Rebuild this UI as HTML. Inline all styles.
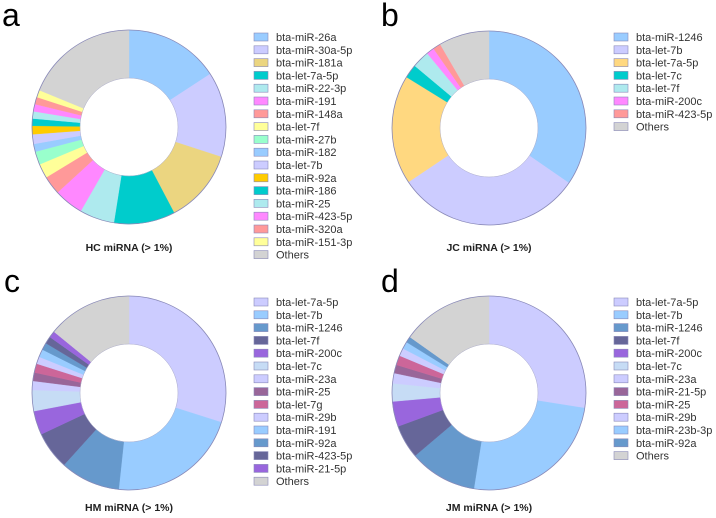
<!DOCTYPE html>
<html><head><meta charset="utf-8">
<style>
html,body{margin:0;padding:0;background:#fff;}
svg{display:block;font-family:"Liberation Sans",Arial,sans-serif;}
</style></head>
<body>
<svg id="fig" width="716" height="518" viewBox="0 0 716 518"></svg>
<script>
const labelsA=["bta-miR-26a","bta-miR-30a-5p","bta-miR-181a","bta-let-7a-5p","bta-miR-22-3p","bta-miR-191","bta-miR-148a","bta-let-7f","bta-miR-27b","bta-miR-182","bta-let-7b","bta-miR-92a","bta-miR-186","bta-miR-25","bta-miR-423-5p","bta-miR-320a","bta-miR-151-3p","Others"];
const valuesA=[15.8,14.2,12.3,10.2,5.8,4.9,3.1,2.4,2.2,1.3,1.6,1.4,1.2,1.2,1.2,1.2,1.2,18.8];
const colorsA=["#99ccff","#ccccff","#ebd580","#00cccc","#aeeaee","#ff88ff","#ff9999","#ffff99","#99ffcc","#99ccff","#ccccff","#ffcc00","#00cccc","#aeeaee","#ff88ff","#ff9999","#ffff99","#d3d3d3"];

const labelsB=["bta-miR-1246","bta-let-7b","bta-let-7a-5p","bta-let-7c","bta-let-7f","bta-miR-200c","bta-miR-423-5p","Others"];
const valuesB=[34.6,31.0,18.2,2.3,2.9,1.3,1.3,8.4];
const colorsB=["#99ccff","#ccccff","#ffd880","#00cccc","#aeeaee","#ff88ff","#ff9999","#d3d3d3"];

const labelsC=["bta-let-7a-5p","bta-let-7b","bta-miR-1246","bta-let-7f","bta-miR-200c","bta-let-7c","bta-miR-23a","bta-miR-25","bta-let-7g","bta-miR-29b","bta-miR-191","bta-miR-92a","bta-miR-423-5p","bta-miR-21-5p","Others"];
const valuesC=[29.9,21.8,10.0,6.3,4.0,3.5,1.5,1.4,1.5,1.2,1.3,1.2,1.2,1.1,14.1];
const colorsC=["#ccccff","#99ccff","#6699cc","#666699","#9966dd","#c6dcf5","#ccccff","#996699","#cc6699","#ccccff","#99ccff","#6699cc","#666699","#9966dd","#d3d3d3"];

const labelsD=["bta-let-7a-5p","bta-let-7b","bta-miR-1246","bta-let-7f","bta-miR-200c","bta-let-7c","bta-miR-23a","bta-miR-21-5p","bta-miR-25","bta-miR-29b","bta-miR-23b-3p","bta-miR-92a","Others"];
const valuesD=[27.5,25.0,11.3,5.6,4.2,3.0,1.7,1.4,1.6,1.3,1.2,1.0,15.2];
const colorsD=["#ccccff","#99ccff","#6699cc","#666699","#9966dd","#c6dcf5","#ccccff","#996699","#cc6699","#ccccff","#99ccff","#6699cc","#d3d3d3"];

const NS="http://www.w3.org/2000/svg";
const svg=document.getElementById("fig");
function mk(tag,attrs,parent){const e=document.createElementNS(NS,tag);for(const k in attrs)e.setAttribute(k,attrs[k]);(parent||svg).appendChild(e);return e;}

function donut(id,letter,title,labels,values,colors,cx,cy,lx,ly,letX,letY,titleY){
  const g=mk("g",{});
  
  
  const R=97,r=49;
  const total=values.reduce((a,b)=>a+b,0);
  const ang=v=>v/total*2*Math.PI;
  let a0=0;
  values.forEach((v,i)=>{
    const a1=a0+ang(v);
    const p=(rad,a)=>[cx+rad*Math.sin(a),cy-rad*Math.cos(a)];
    const [x0,y0]=p(R,a0),[x1,y1]=p(R,a1),[x2,y2]=p(r,a1),[x3,y3]=p(r,a0);
    const large=(a1-a0)>Math.PI?1:0;
    const path=mk("path",{d:`M${x0},${y0}A${R},${R} 0 ${large} 1 ${x1},${y1}L${x2},${y2}A${r},${r} 0 ${large} 0 ${x3},${y3}Z`,fill:colors[i],stroke:colors[i],"stroke-width":0.4},g);
    
    
    a0=a1;
  });
  mk("circle",{cx,cy,r:R,fill:"none",stroke:"#8a8ab8","stroke-width":0.8},g);
  mk("circle",{cx,cy,r:r,fill:"none",stroke:"#b0b0cc","stroke-width":0.5},g);
  const t=mk("text",{x:cx,y:titleY,"text-anchor":"middle","font-size":"10.5","font-weight":"bold",fill:"#222"},g);
  t.textContent=title;
  
  
  const L=mk("text",{x:letX,y:letY,"font-size":"32",fill:"#000"},g);
  L.textContent=letter;
  
  
  labels.forEach((lab,i)=>{
    const y=ly+i*12.8;
    const eg=mk("g",{},g);
    
    
    mk("rect",{x:lx,y:y-4,width:14,height:8,fill:colors[i],stroke:"#8a8ab8","stroke-width":0.6},eg);
    const tx=mk("text",{x:lx+22,y:y+4,"font-size":"11",fill:"#333"},eg);
    tx.textContent=lab;
  });
}
donut("hc","a","HC miRNA (> 1%)",labelsA,valuesA,colorsA,129,127,254,37,2,26,251);
donut("jc","b","JC miRNA (> 1%)",labelsB,valuesB,colorsB,489,128,614,37,381,26,251);
donut("hm","c","HM miRNA (> 1%)",labelsC,valuesC,colorsC,129,393,254,302,4,292,511);
donut("jm","d","JM miRNA (> 1%)",labelsD,valuesD,colorsD,489,393,614,302,381,292,511);
</script>
</body></html>
